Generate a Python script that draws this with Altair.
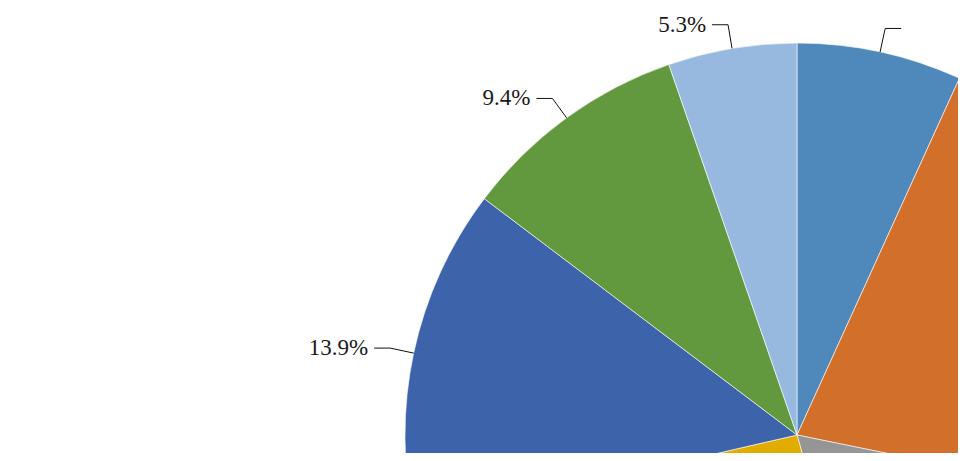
import altair as alt
import pandas as pd

# Data (percent shares, clockwise from 12 o'clock)
categories = ["Slice 1", "Slice 2", "Slice 3", "Slice 4", "Slice 5", "Slice 6", "Slice 7"]
values = [6.8, 21.4, 17.4, 25.8, 13.9, 9.4, 5.3]
labels = ["6.8%", "21.4%", "17.4%", "25.8%", "13.9%", "9.4%", "5.3%"]
colors = ["#4F88BB", "#D2702B", "#959595", "#E2AC00", "#3D64AB", "#63993E", "#98B9DF"]

df = pd.DataFrame({
    "category": categories,
    "value": values,
    "label": labels,
    "idx": list(range(len(values))),
})

W, H = 950, 445
CX, CY = 789, 427
R = 392
LEAD = 24
HSEG = 16
GAP = 6
TXTW = 62  # approximate label width, used to keep labels inside the view

base = alt.Chart(df)

pie = base.mark_arc(outerRadius=R, stroke="white", strokeWidth=0.6).encode(
    theta=alt.Theta("value:Q", stack=True),
    color=alt.Color("category:N", scale=alt.Scale(domain=categories, range=colors), legend=None),
    order=alt.Order("idx:Q"),
    x=alt.value(CX),
    y=alt.value(CY),
)

geo = (
    base.transform_window(cum="sum(value)", frame=[None, 0], sort=[{"field": "idx"}])
    .transform_joinaggregate(total="sum(value)")
    .transform_calculate(mid="(datum.cum - datum.value / 2) / datum.total * 2 * PI")
    .transform_calculate(
        side="sin(datum.mid) >= 0 ? 1 : -1",
        x1=f"{CX} + {R} * sin(datum.mid)",
        y1=f"{CY} - {R} * cos(datum.mid)",
        x2=f"{CX} + {R + LEAD} * sin(datum.mid)",
        y2=f"{CY} - {R + LEAD} * cos(datum.mid)",
    )
    .transform_calculate(
        x3=f"datum.x2 + datum.side * {HSEG}",
        xt=f"datum.x2 + datum.side * {HSEG + GAP}",
    )
)

# labels only where they fit inside the visible area (as in the cropped reference)
geo_txt = geo.transform_filter(
    f"datum.y2 > 10 && datum.y2 < {H - 12} && "
    f"(datum.side > 0 ? datum.xt + {TXTW} <= {W} : datum.xt - {TXTW} >= 0)"
)

radial = geo.transform_filter("datum.y2 < datum.y1").mark_rule(color="#111111", strokeWidth=1).encode(
    x=alt.X("x1:Q", scale=None, axis=None),
    y=alt.Y("y1:Q", scale=None, axis=None),
    x2="x2:Q",
    y2="y2:Q",
)

horiz = geo.transform_filter("datum.y2 < datum.y1").mark_rule(color="#111111", strokeWidth=1).encode(
    x=alt.X("x2:Q", scale=None, axis=None),
    y=alt.Y("y2:Q", scale=None, axis=None),
    x2="x3:Q",
)

text_style = dict(font="Liberation Serif", fontSize=23, color="#1a1a1a", baseline="middle")

text_right = geo_txt.transform_filter("datum.side > 0").mark_text(align="left", **text_style).encode(
    x=alt.X("xt:Q", scale=None, axis=None),
    y=alt.Y("y2:Q", scale=None, axis=None),
    text="label:N",
)

text_left = geo_txt.transform_filter("datum.side < 0").mark_text(align="right", **text_style).encode(
    x=alt.X("xt:Q", scale=None, axis=None),
    y=alt.Y("y2:Q", scale=None, axis=None),
    text="label:N",
)

chart = (
    alt.layer(pie, radial, horiz, text_right, text_left)
    .properties(width=W, height=H, padding=0, autosize="none", background="white")
    .configure_view(stroke=None)
)

chart.save("out.html", embed_options={"renderer": "svg", "actions": False})
